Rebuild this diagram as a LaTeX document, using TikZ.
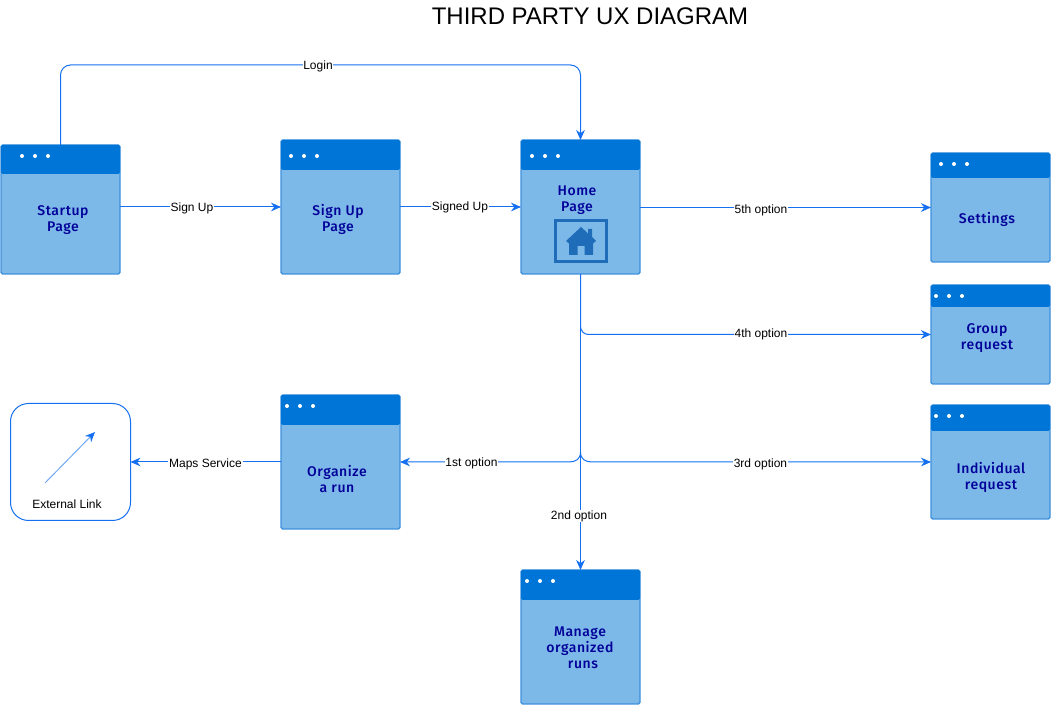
\documentclass[tikz,border=0pt]{standalone}
\usepackage{fontspec}
\setmainfont{Liberation Sans}
\newfontfamily\wfont{Fira Sans}[UprightFont=* Medium,LetterSpace=4]
\usetikzlibrary{arrows.meta,calc}
\definecolor{linkc}{HTML}{1470F0}
\definecolor{headc}{HTML}{0075D8}
\definecolor{bodyc}{HTML}{7DB9E8}
\definecolor{edgec}{HTML}{3D90DC}
\definecolor{textc}{HTML}{000099}
\definecolor{iconc}{HTML}{1F6DB8}
\tikzset{
  winbody/.style={draw=edgec,fill=bodyc,line width=1pt,rounded corners=1.2pt,inner sep=0pt,outer sep=0pt},
  winhead/.style={fill=headc,rounded corners=1.2pt},
  windot/.style={circle,fill=white,inner sep=0pt,minimum size=3pt},
  wintext/.style={font=\wfont\fontsize{10.5}{12}\selectfont,text=textc,align=center,inner sep=0pt},
  link/.style={draw=linkc,line width=0.75pt,-{Stealth[length=7.5pt,width=6.5pt]}},
  lab/.style={fill=white,inner sep=0.6pt,font=\fontsize{9}{11}\selectfont,text=black},
}
% name (x1,y1,x2,y2,yhead;dotx,doty)
\def\win#1(#2,#3,#4,#5,#6;#7,#8){%
  \pgfmathsetmacro\wcx{(#2+#4)/2}%
  \pgfmathsetmacro\wcy{(#3+#5)/2}%
  \pgfmathsetmacro\ww{(#4-#2)*0.75}%
  \pgfmathsetmacro\wh{(#5-#3)*0.75}%
  \node[winbody,minimum width=\ww pt,minimum height=\wh pt] (#1) at (\wcx,\wcy) {};
  \fill[winhead] (#2,#6) -- (#2,#3) -- (#4,#3) -- (#4,#6) -- cycle;
  \foreach \k in {0,13,26} \node[windot] at ({#7+\k},#8) {};
}
\begin{document}
\begin{tikzpicture}[x=0.75pt,y=-0.75pt]
\useasboundingbox (0,0) rectangle (1051,705);
\node[font=\fontsize{18}{22}\selectfont,inner sep=0pt] (title) at (590,16) {THIRD PARTY UX DIAGRAM};

\win startup(1,145,120,274,174;22,156)
\win signup(281,140,400,274,170;291,156)
\win home(521,140,640,274,170;532,156)
\win settings(931,153,1050,262,178;941,164)
\win group(931,285,1050,384,307;936,296)
\win individual(931,405,1050,519,431;936,416)
\win organize(281,395,400,529,425;287,406)
\win manage(521,570,640,704,600;527,581)

\node[wintext] (startup-text) at (63,220.5) {Startup\\Page};
\node[wintext] (signup-text) at (338,219) {Sign Up\\Page};
\node[wintext] (home-text) at (577,200) {Home\\Page};
\node[wintext] (settings-text) at (987,219) {Settings};
\node[wintext] (group-text) at (987,338) {Group\\request};
\node[wintext] (individual-text) at (991,477) {Individual\\request};
\node[wintext] (organize-text) at (337,479) {Organize\\a run};
\node[wintext] (manage-text) at (580,648) {Manage\\organized\\\hspace*{4.5pt}runs};

% home icon
\draw[iconc,line width=2pt] (555.5,220.5) rectangle (606.5,261.5);
\fill[iconc] (566,241) -- (581,227) -- (588,233.5) -- (588,229) -- (592,229) -- (592,237) -- (596,241) -- (593,243.5)
  -- (593,255) -- (584.5,255) -- (584.5,246) -- (577.5,246) -- (577.5,255) -- (569,255) -- (569,243.5) -- cycle;

% external link
\node[draw=linkc,fill=white,line width=0.75pt,rounded corners=13.5pt,minimum width=90pt,minimum height=87.75pt,inner sep=0pt,outer sep=0pt] (ext) at (70.5,462) {};
\coordinate (extfrom) at (45,483);
\coordinate (extto) at (95,432);
\draw[link,draw=linkc!60!white,-{Stealth[length=7.5pt,width=6.5pt,color=linkc]}] (extfrom) -- (extto);
\node[lab,fill=none] (ext-text) at (67,504) {External Link};

% connectors
\coordinate (loginturn) at (60.5,65);
\draw[link,rounded corners=7.5pt] (startup.north) -- (loginturn) -| (home.north);
\draw[link] (startup.east |- signup.west) -- (signup.west);
\draw[link] (signup.east) -- (home.west);
\draw[link] (home.east |- settings.west) -- (settings.west);
\draw[link,rounded corners=6pt] (home.south) -- (home.south |- group.west) -- (group.west);
\draw[link] (home.south) -- (manage.north);
\coordinate (fork) at (580.5,452);
\coordinate (forkr) at (592,462);
\coordinate (forkl) at (569,462);
\draw[link] (fork) .. controls (580.5,459) and (585,462) .. (forkr) -- (individual.west);
\draw[link] (fork) .. controls (580.5,459) and (576,462) .. (forkl) -- (organize.east);
\draw[link] (organize.west) -- (ext.east);

% connector labels
\node[lab] (l-login) at (318,66) {Login};
\node[lab] (l-signup) at (192,208) {Sign Up};
\node[lab] (l-signedup) at (460,207) {Signed Up};
\node[lab] (l-5) at (761,210) {5th option};
\node[lab] (l-4) at (761,334) {4th option};
\node[lab] (l-3) at (760.5,464) {3rd option};
\node[lab] (l-1) at (471.5,463) {1st option};
\node[lab] (l-2) at (579,516) {2nd option};
\node[lab] (l-maps) at (205.5,464) {Maps Service};
\end{tikzpicture}
\end{document}
